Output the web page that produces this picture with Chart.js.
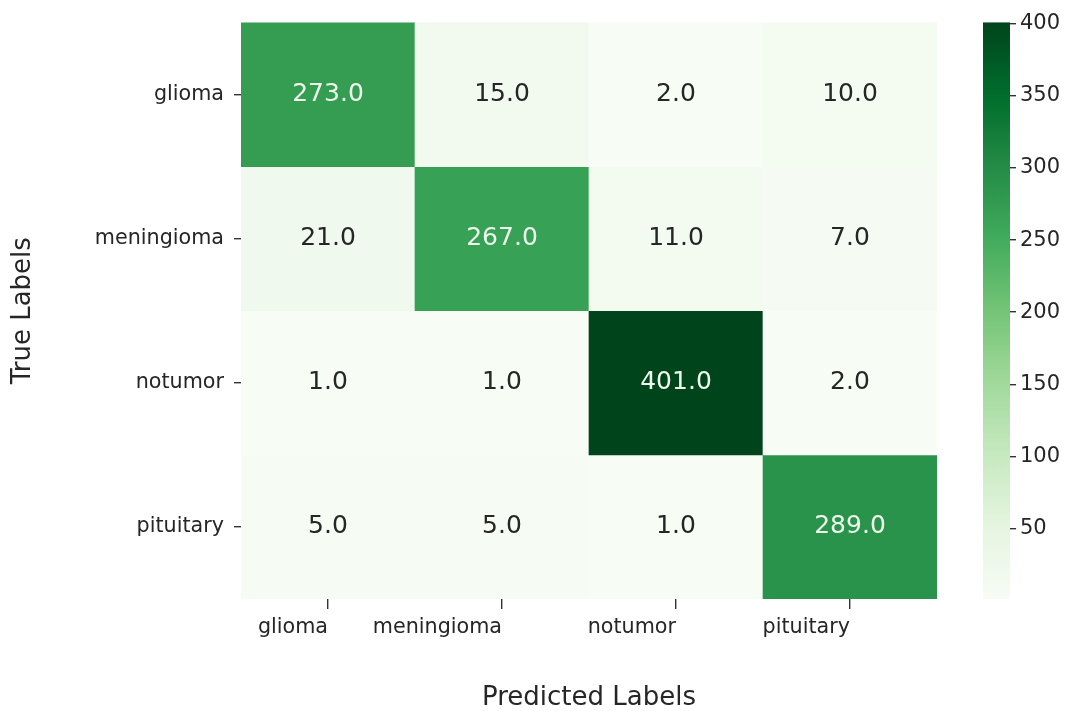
<!DOCTYPE html>
<html>
<head>
<meta charset="utf-8">
<title>Confusion matrix</title>
<script src="https://cdn.jsdelivr.net/npm/chart.js@4/dist/chart.umd.min.js"></script>
<style>
  html, body { margin: 0; padding: 0; background: #ffffff; }
  #wrap { width: 1080px; height: 711px; }
</style>
</head>
<body>
<div id="wrap"><canvas id="cm" width="1080" height="711"></canvas></div>
<script>
// Class names (rows = true label, columns = predicted label)
const predictedLabels = ['glioma', 'meningioma', 'notumor', 'pituitary'];
const trueLabels = ['glioma', 'meningioma', 'notumor', 'pituitary'];

// Counts per true-label row
const gliomaRow = [273, 15, 2, 10];
const meningiomaRow = [21, 267, 11, 7];
const notumorRow = [1, 1, 401, 2];
const pituitaryRow = [5, 5, 1, 289];
const rows = [gliomaRow, meningiomaRow, notumorRow, pituitaryRow];

// Colour bar tick values
const colorbarTicks = [50, 100, 150, 200, 250, 300, 350, 400];

const allValues = rows.flat();
const vmin = Math.min(...allValues);
const vmax = Math.max(...allValues);

// matplotlib "Greens" colour stops
const GREENS = ['#f7fcf5', '#e5f5e0', '#c7e9c0', '#a1d99b', '#74c476',
                '#41ab5d', '#238b45', '#006d2c', '#00441b'];
function hexToRgb(h) {
  return [parseInt(h.slice(1, 3), 16), parseInt(h.slice(3, 5), 16), parseInt(h.slice(5, 7), 16)];
}
const GREENS_RGB = GREENS.map(hexToRgb);
function greens(t) {
  t = Math.max(0, Math.min(1, t));
  const pos = t * (GREENS_RGB.length - 1);
  const i = Math.min(Math.floor(pos), GREENS_RGB.length - 2);
  const f = pos - i;
  const a = GREENS_RGB[i], b = GREENS_RGB[i + 1];
  return a.map((c, k) => c + (b[k] - c) * f);
}
function cellColor(v) {
  const c = greens((v - vmin) / (vmax - vmin));
  return `rgb(${Math.round(c[0])},${Math.round(c[1])},${Math.round(c[2])})`;
}
function luminance(v) {
  const c = greens((v - vmin) / (vmax - vmin)).map(x => {
    x /= 255;
    return x <= 0.03928 ? x / 12.92 : Math.pow((x + 0.055) / 1.055, 2.4);
  });
  return 0.2126 * c[0] + 0.7152 * c[1] + 0.0722 * c[2];
}

const FONT = "'DejaVu Sans', 'Liberation Sans', sans-serif";
const TEXT = '#262626';

// Each true-label row is one stacked dataset of unit-height cells
const datasets = rows.map((row, i) => ({
  label: trueLabels[i],
  data: row.map(() => 1),
  values: row,
  backgroundColor: row.map(cellColor),
  borderWidth: 0,
  barPercentage: 1,
  categoryPercentage: 1,
  stack: 'cm'
}));

// Value annotations in the middle of each cell
const annotations = {
  id: 'annotations',
  afterDatasetsDraw(chart) {
    const ctx = chart.ctx;
    ctx.save();
    ctx.font = `25px ${FONT}`;
    ctx.textAlign = 'center';
    ctx.textBaseline = 'middle';
    chart.data.datasets.forEach((ds, i) => {
      chart.getDatasetMeta(i).data.forEach((el, j) => {
        const v = ds.values[j];
        ctx.fillStyle = luminance(v) > 0.408 ? TEXT : '#eef8ec';
        ctx.fillText(v.toFixed(1), el.x, (el.y + el.base) / 2);
      });
    });
    ctx.restore();
  }
};

// Colour bar drawn next to its own scale
const colorbar = {
  id: 'colorbar',
  afterLayout(chart) {
    const s = chart.scales.cb;
    const barRight = chart.chartArea.right + 73;
    const w = s.right - s.left;
    s.left = barRight;
    s.right = barRight + w;
  },
  beforeDraw(chart) {
    const s = chart.scales.cb;
    const ctx = chart.ctx;
    const yTop = s.getPixelForValue(vmax);
    const yBot = s.getPixelForValue(vmin);
    const x1 = s.left - 27;
    const g = ctx.createLinearGradient(0, yBot, 0, yTop);
    GREENS.forEach((c, i) => g.addColorStop(i / (GREENS.length - 1), c));
    ctx.save();
    ctx.fillStyle = g;
    ctx.fillRect(x1, yTop, 27, yBot - yTop);
    ctx.restore();
  }
};

new Chart(document.getElementById('cm'), {
  type: 'bar',
  data: { labels: predictedLabels, datasets },
  plugins: [annotations, colorbar],
  options: {
    responsive: false,
    animation: false,
    events: [],
    layout: { padding: { top: 22, left: 0, right: 0, bottom: 0 } },
    plugins: { legend: { display: false }, tooltip: { enabled: false } },
    scales: {
      x: {
        type: 'category',
        stacked: true,
        offset: true,
        afterFit(s) { s.height = 112; },
        grid: { offset: false, drawOnChartArea: false, drawTicks: true, tickLength: 10, color: '#333333', lineWidth: 1.4 },
        border: { display: false },
        ticks: { align: 'end', padding: 6, color: TEXT, font: { family: FONT, size: 20.7 }, maxRotation: 0 },
        title: { display: true, text: 'Predicted Labels', color: TEXT, font: { family: FONT, size: 26 }, padding: { top: 0, bottom: -3 } }
      },
      y: {
        type: 'linear',
        stacked: true,
        reverse: true,
        min: 0,
        max: trueLabels.length,
        afterFit(s) { s.width = 241; },
        afterBuildTicks(s) { s.ticks = trueLabels.map((_, i) => ({ value: i + 0.5 })); },
        grid: { drawOnChartArea: false, drawTicks: true, tickLength: 7, color: '#333333', lineWidth: 1.4 },
        border: { display: false },
        ticks: {
          padding: 10, color: TEXT, font: { family: FONT, size: 20.7 },
          callback: (v) => trueLabels[Math.floor(v)]
        },
        title: { display: true, text: 'True Labels', color: TEXT, font: { family: FONT, size: 26 }, padding: { top: 8, bottom: 0 } }
      },
      cb: {
        type: 'linear',
        position: 'right',
        min: vmin,
        max: vmax,
        afterFit(s) { s.width = 143; },
        afterBuildTicks(s) { s.ticks = colorbarTicks.map(v => ({ value: v })); },
        grid: { drawOnChartArea: false, drawTicks: true, tickLength: 6, color: '#333333', lineWidth: 1.4 },
        border: { display: false },
        ticks: { padding: 4, color: TEXT, font: { family: FONT, size: 21 } }
      }
    }
  }
});
</script>
</body>
</html>
